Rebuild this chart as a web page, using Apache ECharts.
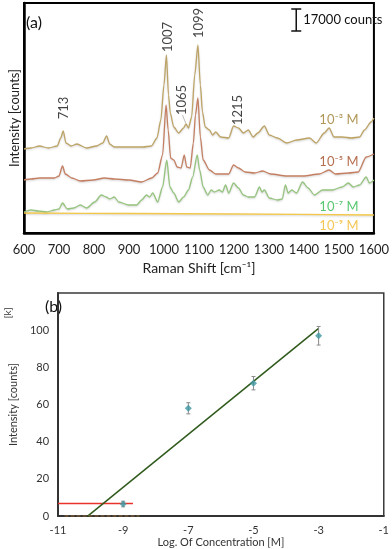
<!DOCTYPE html>
<html>
<head>
<meta charset="utf-8">
<script src="https://cdn.jsdelivr.net/npm/echarts@6/dist/echarts.min.js"></script>
<style>
  html, body { margin: 0; padding: 0; background: #fff; }
  #chart { width: 392px; height: 549px; }
</style>
</head>
<body>
<div id="chart"></div>
<script>
const FONT = "Lato, 'Liberation Sans', sans-serif";

// ---- panel (a): offset Raman spectra, [shift cm-1, stacked intensity]
const spec1e3 = [
  [600, 84], [620, 85], [644, 87], [670, 85], [695, 87], [705, 95], [712, 102], [720, 90],
  [735, 87], [751, 89], [779, 85], [807, 87], [825, 90], [836, 97], [845, 89], [858, 86],
  [900, 86], [940, 86], [964, 87], [980, 95], [991, 113], [1000, 148], [1007, 178], [1013, 138],
  [1018, 120], [1028, 106], [1042, 100], [1056, 105], [1063, 109], [1070, 105], [1079, 116],
  [1088, 158], [1097, 188], [1104, 148], [1110, 121], [1118, 106], [1130, 103], [1139, 98],
  [1148, 101], [1162, 96], [1185, 95], [1199, 107], [1213, 105], [1227, 100], [1241, 103],
  [1255, 96], [1268, 100], [1287, 107], [1301, 98], [1324, 95], [1351, 90], [1379, 93],
  [1416, 95], [1435, 90], [1458, 100], [1472, 105], [1486, 96], [1509, 96], [1536, 95],
  [1559, 96], [1573, 103], [1592, 111], [1600, 115]
];
const spec1e5 = [
  [600, 53], [620, 54], [644, 55], [687, 55], [700, 57], [710, 67], [718, 59], [737, 55],
  [761, 52], [798, 53], [830, 55], [858, 54], [900, 53], [936, 51], [965, 55], [982, 60],
  [996, 78], [1006, 128], [1012, 103], [1019, 75], [1028, 73], [1038, 66], [1049, 65],
  [1058, 78], [1065, 66], [1075, 65], [1084, 90], [1090, 118], [1097, 135], [1104, 96],
  [1112, 73], [1130, 63], [1148, 59], [1185, 59], [1199, 68], [1213, 65], [1232, 61],
  [1259, 60], [1282, 62], [1305, 59], [1351, 57], [1398, 57], [1444, 59], [1472, 63],
  [1490, 59], [1527, 60], [1555, 61], [1578, 76], [1600, 79]
];
const spec1e7 = [
  [600, 21], [620, 23], [641, 22], [665, 21], [687, 23], [700, 24], [710, 30], [724, 24],
  [742, 25], [761, 28], [779, 25], [802, 31], [821, 38], [835, 36], [845, 34], [858, 36],
  [871, 31], [899, 28], [922, 28], [936, 33], [950, 38], [959, 36], [968, 40], [982, 31],
  [996, 46], [1008, 73], [1017, 46], [1028, 40], [1042, 31], [1056, 36], [1070, 43],
  [1082, 56], [1095, 78], [1102, 63], [1112, 46], [1125, 38], [1135, 43], [1144, 41],
  [1158, 43], [1167, 41], [1176, 48], [1185, 40], [1199, 50], [1213, 45], [1227, 38],
  [1241, 36], [1259, 36], [1273, 46], [1280, 41], [1287, 43], [1301, 35], [1324, 33],
  [1338, 34], [1347, 48], [1355, 40], [1365, 43], [1379, 40], [1396, 51], [1412, 45],
  [1430, 38], [1453, 43], [1481, 43], [1509, 46], [1527, 50], [1541, 46], [1559, 48],
  [1578, 56], [1587, 50], [1600, 53]
];
const spec1e9 = [[600, 20], [900, 19.5], [1200, 19], [1600, 18]];

const peakLabels = ["713", "1007", "1065", "1099", "1215"];
const peakLabelAt = [[713, 125], [1010, 196], [1051, 133], [1099, 210], [1212, 123]];
const concLabels = ["10\u207B\u00B3 M", "10\u207B\u2075 M", "10\u207B\u2077 M", "10\u207B\u2079 M"];
const concLabelAt = [[1500, 113], [1500, 71], [1500, 26], [1500, 7]];
const scaleBar = [[1378, 202, 224]]; // 17000 counts

// ---- panel (b): calibration
const logConc = [-9, -7, -5, -3];
const meanK = [6.5, 58, 71.5, 97];
const errK = [1.5, 3, 3.6, 5];
const fitLine = [[-10.09, 0], [-3, 101]];
const lodLine = [[-11, 6.8], [-8.7, 6.8]];
const blankLine = [[-10.8, 0], [-8.5, 0]];

const specColors = ["#bda466", "#c47f62", "#95c47e", "#f3c84a"];
const concColors = ["#9c7c2c", "#a24a22", "#2fb84c", "#f1b82a"];

const chart = echarts.init(document.getElementById("chart"), null, { renderer: "canvas" });

const specSeries = [spec1e3, spec1e5, spec1e7, spec1e9].map((d, i) => ({
  type: "line",
  xAxisIndex: 0,
  yAxisIndex: 0,
  data: d,
  showSymbol: false,
  smooth: 0.25,
  smoothMonotone: "x",
  lineStyle: {
    color: specColors[i],
    width: 1.3,
    shadowColor: "rgba(0,0,0,0.18)",
    shadowBlur: 2,
    shadowOffsetY: 1,
  },
  z: 3,
}));

const option = {
  animation: false,
  backgroundColor: "#fff",
  textStyle: { fontFamily: FONT },
  grid: [
    { left: 17, top: 3, width: 361, height: 230, show: true, borderColor: "#000", borderWidth: 2 },
    { left: 35, top: 293, width: 350, height: 225, show: true, borderColor: "#3a3a3a", borderWidth: 1.5 },
  ],
  xAxis: [
    {
      gridIndex: 0, type: "value", min: 600, max: 1600, interval: 100,
      axisLine: { lineStyle: { color: "#000", width: 2.5 } },
      axisTick: { show: false },
      splitLine: { show: false },
      axisLabel: {
        fontSize: 13, color: "#222", margin: 10, fontFamily: FONT,
        formatter: (v) => String(v),
      },
      name: "Raman Shift [cm\u207B\u00B9]",
      nameLocation: "middle", nameGap: 28,
      nameTextStyle: { fontSize: 14, color: "#222", fontFamily: FONT },
    },
    {
      gridIndex: 1, type: "value", min: -11, max: -1, interval: 2,
      axisLine: { onZero: false, lineStyle: { color: "#333", width: 2 } },
      axisTick: { show: false },
      splitLine: { show: false },
      axisLabel: { fontSize: 11, color: "#333", margin: 9, fontFamily: FONT },
      name: "Log. Of Concentration [M]",
      nameLocation: "middle", nameGap: 19,
      nameTextStyle: { fontSize: 11, color: "#333", fontFamily: FONT },
    },
  ],
  yAxis: [
    {
      gridIndex: 0, type: "value", min: 0, max: 230,
      axisLine: { show: true, lineStyle: { color: "#000", width: 2.5 } },
      axisTick: { show: false },
      axisLabel: { show: false },
      splitLine: { show: false },
      name: "Intensity [counts]",
      nameLocation: "middle", nameGap: 3,
      nameTextStyle: { fontSize: 13, color: "#222", fontFamily: FONT },
    },
    {
      gridIndex: 1, type: "value", min: 0, max: 120, interval: 20,
      axisLine: { show: true, onZero: false, lineStyle: { color: "#333", width: 2 } },
      axisTick: { show: false },
      splitLine: { show: false },
      axisLabel: {
        fontSize: 11, color: "#333", margin: 9, fontFamily: FONT,
        formatter: (v) => (v === 120 ? "" : String(v)),
      },
      name: "Intensity [counts]",
      nameLocation: "middle", nameGap: 22,
      nameTextStyle: { fontSize: 11, color: "#333", fontFamily: FONT },
    },
  ],
  graphic: [
    { type: "text", left: 26, top: 15, style: { text: "(a)", font: `16px ${FONT}`, fill: "#111" } },
    { type: "text", left: 45, top: 299, style: { text: "(b)", font: `16px ${FONT}`, fill: "#111" } },
    {
      type: "text", x: 8, y: 313, rotation: Math.PI / 2,
      style: { text: "[k]", font: `10px ${FONT}`, fill: "#333", align: "center", verticalAlign: "middle" },
    },
  ],
  series: [
    ...specSeries,
    {
      // peak position labels
      type: "scatter", xAxisIndex: 0, yAxisIndex: 0,
      data: peakLabelAt.map((p, i) => ({ value: p, name: peakLabels[i] })),
      symbolSize: 1, itemStyle: { color: "transparent" },
      label: {
        show: true, position: "inside", rotate: 90, formatter: "{b}",
        fontSize: 13, color: "#111", fontFamily: FONT,
      },
      z: 5,
    },
    {
      // leader line for the 1065 label
      type: "line", xAxisIndex: 0, yAxisIndex: 0,
      data: [[1053, 118], [1062, 110]],
      showSymbol: false,
      lineStyle: { color: "#bbb", width: 1 },
    },
    {
      // concentration labels
      type: "scatter", xAxisIndex: 0, yAxisIndex: 0,
      data: concLabelAt.map((p, i) => ({
        value: p, name: concLabels[i],
        label: { color: concColors[i] },
      })),
      symbolSize: 1, itemStyle: { color: "transparent" },
      label: { show: true, position: "inside", formatter: "{b}", fontSize: 13, fontFamily: FONT },
      z: 5,
    },
    {
      // 17000 counts scale bar
      type: "custom", xAxisIndex: 0, yAxisIndex: 0,
      data: scaleBar,
      renderItem: (params, api) => {
        const top = api.coord([api.value(0), api.value(2)]);
        const bot = api.coord([api.value(0), api.value(1)]);
        const w = 5;
        const st = { stroke: "#111", lineWidth: 1.5 };
        return {
          type: "group",
          children: [
            { type: "line", shape: { x1: top[0], y1: top[1], x2: bot[0], y2: bot[1] }, style: st },
            { type: "line", shape: { x1: top[0] - w, y1: top[1], x2: top[0] + w, y2: top[1] }, style: st },
            { type: "line", shape: { x1: bot[0] - w, y1: bot[1], x2: bot[0] + w, y2: bot[1] }, style: st },
            {
              type: "text", x: top[0] + 7, y: (top[1] + bot[1]) / 2,
              style: { text: "17000 counts", font: `13px ${FONT}`, fill: "#111", verticalAlign: "middle" },
            },
          ],
        };
      },
      z: 5,
    },
    // ---- panel (b)
    {
      type: "line", xAxisIndex: 1, yAxisIndex: 1,
      data: blankLine, showSymbol: false,
      lineStyle: { color: "#f0a040", width: 1, type: "dashed", opacity: 0.7 },
      z: 6,
    },
    {
      type: "line", xAxisIndex: 1, yAxisIndex: 1,
      data: lodLine, showSymbol: false,
      lineStyle: { color: "#e8322a", width: 1.5 },
      z: 4,
    },
    {
      type: "line", xAxisIndex: 1, yAxisIndex: 1,
      data: fitLine, showSymbol: false,
      lineStyle: { color: "#2f5a1c", width: 1.5 },
      z: 4,
    },
    {
      // error bars
      type: "custom", xAxisIndex: 1, yAxisIndex: 1,
      data: logConc.map((x, i) => [x, meanK[i] - errK[i], meanK[i] + errK[i]]),
      renderItem: (params, api) => {
        const lo = api.coord([api.value(0), api.value(1)]);
        const hi = api.coord([api.value(0), api.value(2)]);
        const w = 2;
        const st = { stroke: "#8a8a8a", lineWidth: 1 };
        return {
          type: "group",
          children: [
            { type: "line", shape: { x1: lo[0], y1: lo[1], x2: hi[0], y2: hi[1] }, style: st },
            { type: "line", shape: { x1: lo[0] - w, y1: lo[1], x2: lo[0] + w, y2: lo[1] }, style: st },
            { type: "line", shape: { x1: hi[0] - w, y1: hi[1], x2: hi[0] + w, y2: hi[1] }, style: st },
          ],
        };
      },
      z: 5,
    },
    {
      type: "scatter", xAxisIndex: 1, yAxisIndex: 1,
      data: logConc.map((x, i) => [x, meanK[i]]),
      symbol: "diamond", symbolSize: 7,
      itemStyle: { color: "#3f97a3" },
      z: 6,
    },
  ],
};

chart.setOption(option);
</script>
</body>
</html>
